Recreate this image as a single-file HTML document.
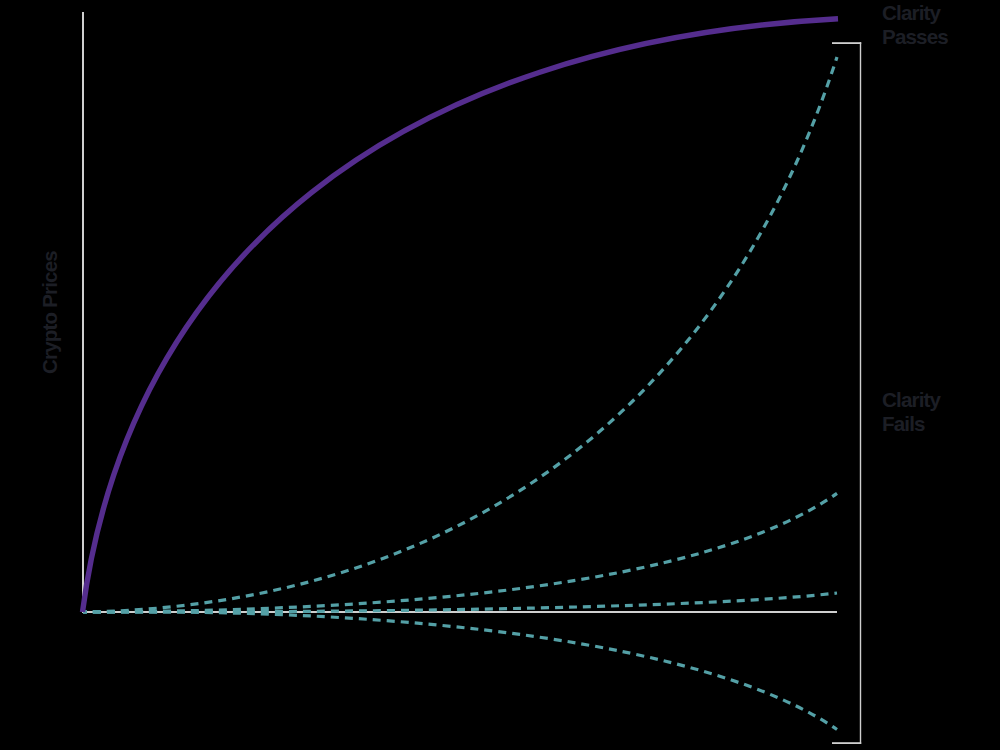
<!DOCTYPE html>
<html><head><meta charset="utf-8">
<style>
html,body{margin:0;padding:0;background:#000;}
body{width:1000px;height:750px;position:relative;overflow:hidden;font-family:"Liberation Sans",sans-serif;}
svg{position:absolute;left:0;top:0;}
.lbl{position:absolute;left:882px;font-weight:bold;font-size:20.6px;line-height:24px;color:#1c1e25;letter-spacing:-0.85px;white-space:nowrap;}
.ylab{position:absolute;font-weight:bold;font-size:20.6px;line-height:24px;color:#1c1e25;letter-spacing:-0.85px;white-space:nowrap;transform-origin:0 0;transform:rotate(-90deg);}
</style></head>
<body>
<svg width="1000" height="750" viewBox="0 0 1000 750">
  <g fill="none" stroke="#cfcfcf" stroke-width="2">
    <line x1="83" y1="12" x2="83" y2="613"/>
    <line x1="82" y1="612" x2="837" y2="612"/>
    
  </g>
  <g fill="#cfcfcf">
    <rect x="832" y="42.2" width="29.2" height="1.8"/>
    <rect x="859.8" y="42.2" width="1.4" height="701.8"/>
    <rect x="832" y="742.2" width="29.2" height="1.8"/>
  </g>
  <g fill="none" stroke="#54a0a6" stroke-width="3.2" stroke-dasharray="8 6" stroke-dashoffset="4.2">
    <path d="M83,612 C394.8,607.2 705.4,464.8 837,57"/>
    <path d="M83,612 C401.8,611 703.8,586.4 837,493.4"/>
    <path d="M83,612 C408.6,612.6 718.2,607 837,593"/>
    <path d="M83,612 C412.2,608.3 710.2,642.3 837,729.5"/>
  </g>
  <path d="M82.5,612 C128.7,259.6 395.7,43.2 838,18.8" fill="none" stroke="#552d8e" stroke-width="5.4"/>
</svg>
<div class="lbl" style="top:0.5px">Clarity<br>Passes</div>
<div class="lbl" style="top:387.5px">Clarity<br>Fails</div>
<div class="ylab" style="left:38px;top:374px">Crypto Prices</div>
</body></html>
